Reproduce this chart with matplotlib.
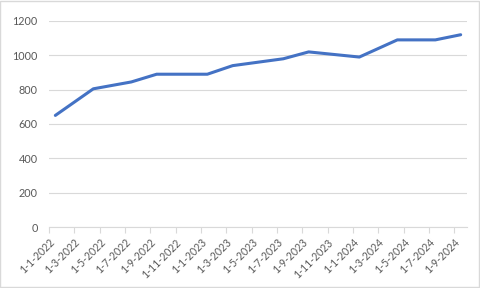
import matplotlib.pyplot as plt
import matplotlib.patches as patches
from matplotlib.transforms import ScaledTranslation

# ── Data ──────────────────────────────────────────────────────────────────────
dates  = ["2022-01", "2022-04", "2022-07", "2022-09", "2023-01", "2023-03",
          "2023-07", "2023-09", "2024-01", "2024-04", "2024-07", "2024-09"]
values = [650, 805, 845, 890, 890, 940, 980, 1020, 990, 1090, 1090, 1120]

tick_labels = ["1-1-2022", "1-3-2022", "1-5-2022", "1-7-2022", "1-9-2022",
               "1-11-2022", "1-1-2023", "1-3-2023", "1-5-2023", "1-7-2023",
               "1-9-2023", "1-11-2023", "1-1-2024", "1-3-2024", "1-5-2024",
               "1-7-2024", "1-9-2024"]
y_ticks = [0, 200, 400, 600, 800, 1000, 1200]

# month slots counted from Jan 2022, points sit in the middle of their month
def month_index(s):
    y, m = s.split("-")
    return (int(y) - 2022) * 12 + int(m) - 1

x = [month_index(d) + 0.5 for d in dates]
n_months = 33

plt.rcParams['font.family'] = ['Lato', 'DejaVu Sans']

fig = plt.figure(figsize=(4.8, 2.88), dpi=100)
ax = fig.add_axes([49 / 480, 1 - 227 / 288, 418 / 480, 206 / 288])

ax.plot(x, values, color='#4472C4', lw=2.2, solid_joinstyle='round',
        solid_capstyle='round', zorder=3)

ax.set_xlim(0, n_months)
ax.set_ylim(0, 1200)
ax.set_yticks(y_ticks)
ax.grid(axis='y', color='#d9d9d9', lw=0.8)
ax.set_axisbelow(True)

ax.set_xticks(range(0, 2 * len(tick_labels), 2))
ax.set_xticklabels(tick_labels, rotation=45, ha='right', rotation_mode='anchor')
shift = ScaledTranslation(5 / 100, 0, fig.dpi_scale_trans)
for lab in ax.get_xticklabels():
    lab.set_transform(lab.get_transform() + shift)

for side in ['left', 'right', 'top']:
    ax.spines[side].set_visible(False)
ax.spines['bottom'].set_color('#d9d9d9')
ax.spines['bottom'].set_linewidth(0.8)

ax.tick_params(axis='y', length=0, pad=8, labelsize=7.8, labelcolor='#595959')
ax.tick_params(axis='x', length=4, width=0.8, color='#d9d9d9', pad=3,
               labelsize=7.6, labelcolor='#595959')

# chart border
fig.patches.append(patches.Rectangle((0.001, 0.002), 0.997, 0.995,
                                     transform=fig.transFigure, fill=False,
                                     edgecolor='#d9d9d9', lw=1))

fig.savefig('out.png', dpi=100)
